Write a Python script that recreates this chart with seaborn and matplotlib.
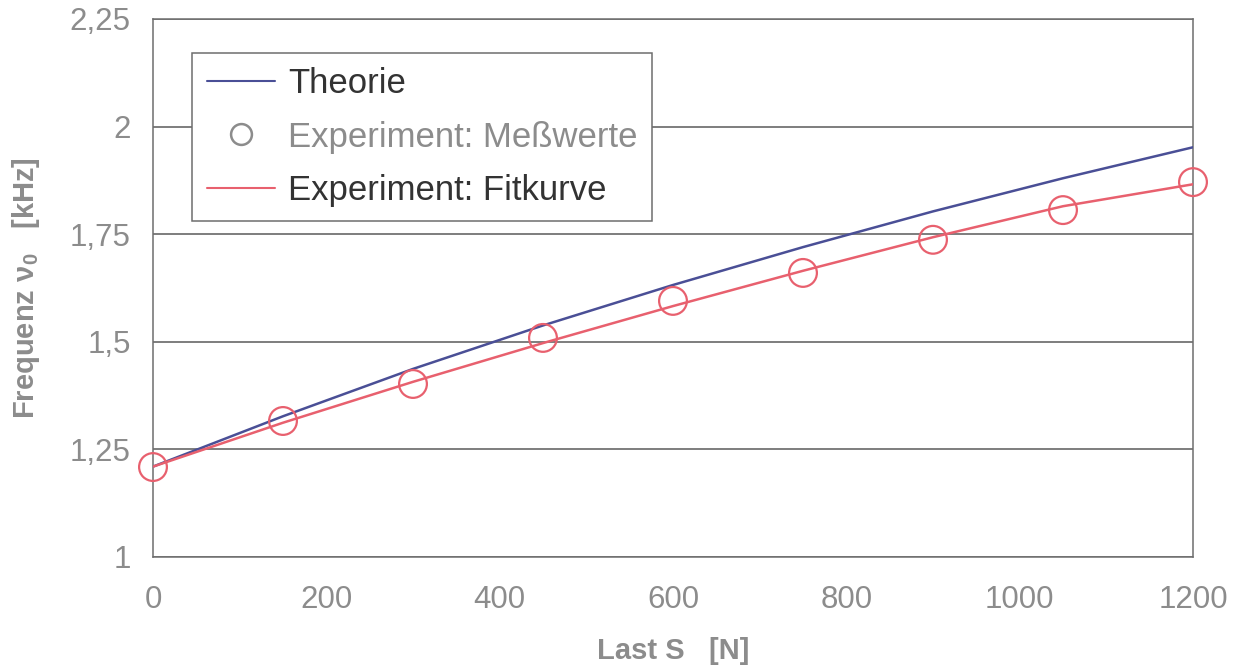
import matplotlib
matplotlib.use("Agg")
import matplotlib.pyplot as plt
import seaborn as sns
import pandas as pd
from matplotlib.lines import Line2D

# Data
last_s = [0, 150, 300, 450, 600, 750, 900, 1050, 1200]
theorie = [1.210, 1.327, 1.437, 1.538, 1.632, 1.720, 1.803, 1.880, 1.952]
messwerte = [1.209, 1.316, 1.402, 1.509, 1.595, 1.660, 1.737, 1.806, 1.871]
fitkurve = [1.210, 1.312, 1.407, 1.497, 1.583, 1.665, 1.743, 1.815, 1.866]
y_ticks = [1.0, 1.25, 1.5, 1.75, 2.0, 2.25]
y_ticklabels = ["1", "1,25", "1,5", "1,75", "2", "2,25"]
x_ticks = [0, 200, 400, 600, 800, 1000, 1200]

sns.set_style("white")
plt.rcParams["font.family"] = ["Liberation Sans", "DejaVu Sans"]
plt.rcParams["mathtext.fontset"] = "custom"
plt.rcParams["mathtext.rm"] = "Liberation Sans"
plt.rcParams["mathtext.it"] = "Liberation Sans"
plt.rcParams["mathtext.bf"] = "Liberation Sans:bold"

GREY = "#8c8c8c"
BLUE = "#4a4f96"
RED = "#e8606e"
GRID = "#5a5a5a"

df = pd.DataFrame({"S": last_s, "Theorie": theorie, "Mess": messwerte, "Fit": fitkurve})

fig = plt.figure(figsize=(12.39, 6.66), dpi=100)
ax = fig.add_axes([153 / 1239, 1 - 557 / 666, (1193 - 153) / 1239, (557 - 19) / 666])

sns.lineplot(data=df, x="S", y="Theorie", ax=ax, color=BLUE, linewidth=1.8, zorder=3)
sns.lineplot(data=df, x="S", y="Fit", ax=ax, color=RED, linewidth=1.8, zorder=4)
sns.scatterplot(data=df, x="S", y="Mess", ax=ax, s=400, facecolors="none",
                edgecolor=RED, linewidth=1.6, zorder=5, clip_on=False)

ax.set_xlim(0, 1200)
ax.set_ylim(1.0, 2.25)
ax.set_xticks(x_ticks)
ax.set_xticklabels([str(v) for v in x_ticks])
ax.set_yticks(y_ticks)
ax.set_yticklabels(y_ticklabels)
ax.yaxis.grid(True, color=GRID, linewidth=1.1)
ax.xaxis.grid(False)
ax.set_axisbelow(True)

for sp in ax.spines.values():
    sp.set_visible(True)
    sp.set_color("#6e6e6e")
    sp.set_linewidth(1.1)

ax.tick_params(axis="both", which="both", direction="out", length=7, width=1.0,
               color="#6e6e6e", labelcolor=GREY, labelsize=22.5, pad=8)
ax.tick_params(axis="x", pad=13)
ax.tick_params(axis="y", pad=4, length=12)

ax.set_xlabel("Last S   [N]", fontsize=21, fontweight="bold", color=GREY, labelpad=16)
ax.set_ylabel(r"Frequenz $\mathregular{\nu_0}$   [kHz]", fontsize=21, fontweight="bold",
              color=GREY, labelpad=20)

handles = [
    Line2D([0], [0], color=BLUE, linewidth=1.5),
    Line2D([0], [0], linestyle="none", marker="o", markersize=15,
           markerfacecolor="none", markeredgecolor=GREY, markeredgewidth=1.8),
    Line2D([0], [0], color=RED, linewidth=1.5),
]
labels = ["Theorie", "Experiment: Meßwerte", "Experiment: Fitkurve"]
leg = ax.legend(handles, labels, loc="upper left", bbox_to_anchor=(0.0375, 0.937),
                fontsize=25, frameon=True, fancybox=False, edgecolor="#6e6e6e",
                framealpha=1, borderpad=0.42, labelspacing=0.58, handlelength=1.96,
                handletextpad=0.38, borderaxespad=0)
leg.get_frame().set_linewidth(1.1)
leg.set_zorder(10)
txts = leg.get_texts()
txts[0].set_color("#333333")
txts[1].set_color(GREY)
txts[2].set_color("#333333")

fig.savefig("out.png", dpi=100)
